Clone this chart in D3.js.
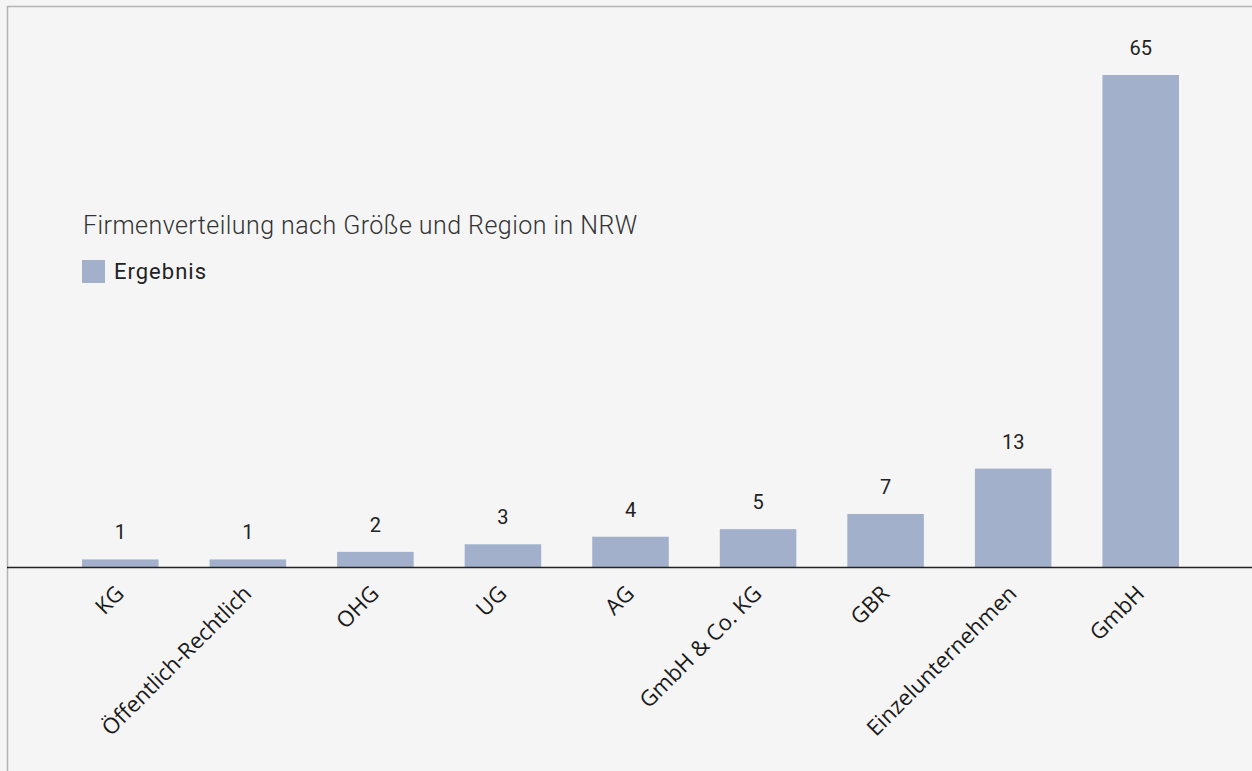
<!DOCTYPE html>
<html><head><meta charset="utf-8">
<script src="https://cdn.jsdelivr.net/npm/d3@7"></script>
<style>html,body{margin:0;padding:0;background:#f5f5f5;}svg{display:block;}</style>
</head><body>
<script>
const categories = ["KG","Öffentlich-Rechtlich","OHG","UG","AG","GmbH & Co. KG","GBR","Einzelunternehmen","GmbH"];
const values = [1,1,2,3,4,5,7,13,65];
const seriesName = "Ergebnis";
const title = "Firmenverteilung nach Größe und Region in NRW";

const W = 1252, H = 771;
const svg = d3.select("body").append("svg").attr("width", W).attr("height", H);
svg.append("rect").attr("width", W).attr("height", H).attr("fill", "#f5f5f5");
// frame lines
svg.append("line").attr("x1", 7).attr("x2", W).attr("y1", 6.5).attr("y2", 6.5).attr("stroke", "#b3b3b3").attr("stroke-width", 1.5);
svg.append("line").attr("x1", 7.5).attr("x2", 7.5).attr("y1", 6).attr("y2", H).attr("stroke", "#b3b3b3").attr("stroke-width", 1.5);

const baseY = 567;
const x = d3.scaleBand().domain(categories).range([31, 1230]).paddingInner(0.4).paddingOuter(0.4);
const y = d3.scaleLinear().domain([0, 65]).range([baseY, 75]);

svg.append("g").selectAll("rect").data(values).join("rect")
  .attr("x", (d, i) => x(categories[i]))
  .attr("width", x.bandwidth())
  .attr("y", d => y(d))
  .attr("height", d => baseY - y(d))
  .attr("fill", "#a2b0cb");

svg.append("g").selectAll("text").data(values).join("text")
  .attr("x", (d, i) => x(categories[i]) + x.bandwidth() / 2)
  .attr("y", d => y(d) - 20)
  .attr("text-anchor", "middle")
  .attr("font-family", "Roboto, sans-serif")
  .attr("font-size", 20)
  .attr("fill", "#222")
  .text(d => d);

// x axis
const ax = svg.append("g").attr("transform", `translate(0,${baseY})`)
  .call(d3.axisBottom(x).tickSize(0).tickPadding(0));
ax.select(".domain").remove();
svg.append("line").attr("x1", 7).attr("x2", W).attr("y1", baseY + 0.5).attr("y2", baseY + 0.5).attr("stroke", "#222").attr("stroke-width", 1.3);
ax.selectAll("text")
  .attr("font-family", "'Open Sans', sans-serif")
  .attr("font-size", 22)
  .attr("fill", "#1a1a1a")
  .attr("text-anchor", "end")
  .attr("dy", null)
  .attr("transform", "translate(5,28) rotate(-45)");

// title + legend
svg.append("text").attr("x", 83).attr("y", 234)
  .attr("font-family", "Roboto, sans-serif").attr("font-size", 25).attr("font-weight", 300)
  .attr("letter-spacing", 0.45)
  .attr("fill", "#333").text(title);
svg.append("rect").attr("x", 82).attr("y", 260).attr("width", 23).attr("height", 23).attr("fill", "#a2b0cb");
svg.append("text").attr("x", 114).attr("y", 279)
  .attr("font-family", "Roboto, sans-serif").attr("font-size", 22)
  .attr("letter-spacing", 1.0)
  .attr("fill", "#222").text(seriesName);
</script>
</body></html>
